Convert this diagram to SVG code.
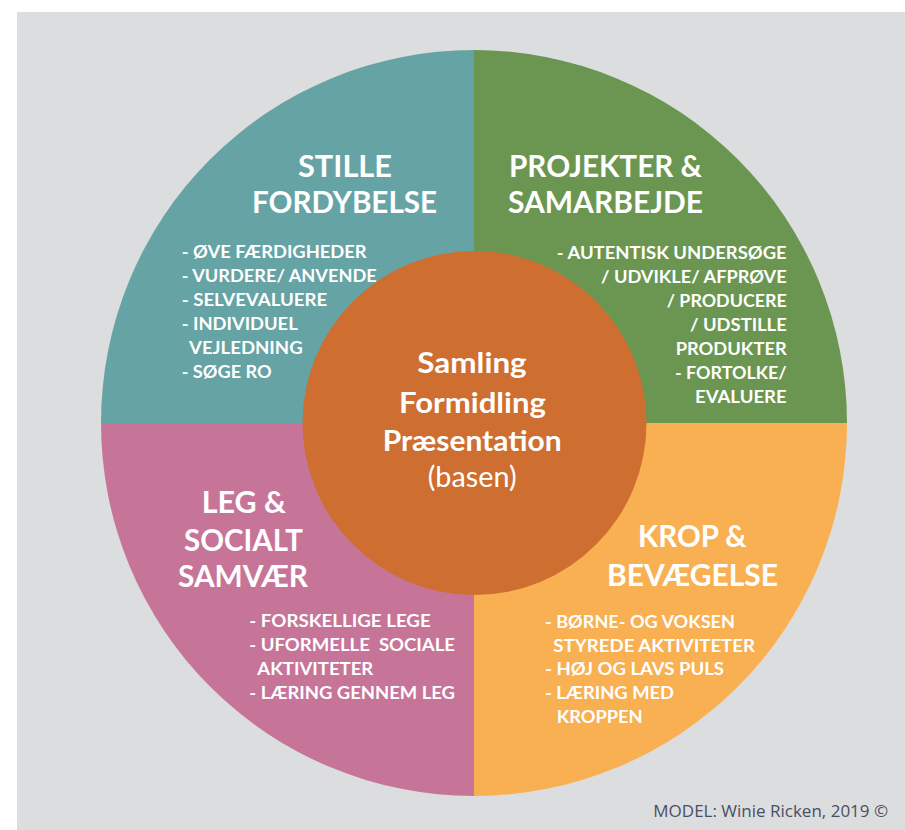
<svg xmlns="http://www.w3.org/2000/svg" width="905" height="830" viewBox="0 0 905 830">
<style>
.t{font-family:Lato,"Open Sans","Liberation Sans",sans-serif;font-weight:bold;fill:#ffffff;font-size:29.5px}
.b{font-family:Lato,"Open Sans","Liberation Sans",sans-serif;font-weight:bold;fill:#ffffff;font-size:16.5px}
.c{font-family:Lato,"Open Sans","Liberation Sans",sans-serif;font-weight:bold;fill:#ffffff;font-size:28px}
.r{font-family:Lato,"Open Sans","Liberation Sans",sans-serif;font-weight:normal;fill:#ffffff;font-size:28px}
.f{font-family:"Open Sans","Noto Sans","Liberation Sans",sans-serif;font-weight:normal;fill:#4a4f63;font-size:17px}
</style>
<rect x="0" y="0" width="905" height="830" fill="#ffffff"/>
<rect x="17" y="12" width="888" height="818" fill="#dcdddf"/>
<g id="stille-fordybelse">
<path d="M474,423 L101,423 A373,373 0 0 1 474,50 Z" fill="#66a3a4"/>
<text class="t" x="298" y="177" textLength="94" lengthAdjust="spacingAndGlyphs">STILLE</text>
<text class="t" x="252" y="213" textLength="185" lengthAdjust="spacingAndGlyphs">FORDYBELSE</text>
<text class="b" x="181.7" y="258" textLength="185" lengthAdjust="spacingAndGlyphs">- ØVE FÆRDIGHEDER</text>
<text class="b" x="181.7" y="281.7" textLength="195" lengthAdjust="spacingAndGlyphs">- VURDERE/ ANVENDE</text>
<text class="b" x="181.7" y="305.7" textLength="145.6" lengthAdjust="spacingAndGlyphs">- SELVEVALUERE</text>
<text class="b" x="181.7" y="330" textLength="116" lengthAdjust="spacingAndGlyphs">- INDIVIDUEL</text>
<text class="b" x="189" y="354" textLength="113.7" lengthAdjust="spacingAndGlyphs">VEJLEDNING</text>
<text class="b" x="181.7" y="378" textLength="90" lengthAdjust="spacingAndGlyphs">- SØGE RO</text>
</g>
<g id="projekter-samarbejde">
<path d="M474,423 L474,50 A373,373 0 0 1 847,423 Z" fill="#6a9651"/>
<text class="t" x="509" y="176.7" textLength="193" lengthAdjust="spacingAndGlyphs">PROJEKTER &amp;</text>
<text class="t" x="508" y="213" textLength="195" lengthAdjust="spacingAndGlyphs">SAMARBEJDE</text>
<text class="b" x="556.7" y="259" textLength="230" lengthAdjust="spacingAndGlyphs">- AUTENTISK UNDERSØGE</text>
<text class="b" x="601" y="283" textLength="185.7" lengthAdjust="spacingAndGlyphs">/ UDVIKLE/ AFPRØVE</text>
<text class="b" x="666.7" y="306.7" textLength="120" lengthAdjust="spacingAndGlyphs">/ PRODUCERE</text>
<text class="b" x="690" y="330.7" textLength="96.7" lengthAdjust="spacingAndGlyphs">/ UDSTILLE</text>
<text class="b" x="675.7" y="355" textLength="111" lengthAdjust="spacingAndGlyphs">PRODUKTER</text>
<text class="b" x="675" y="379" textLength="111.7" lengthAdjust="spacingAndGlyphs">- FORTOLKE/</text>
<text class="b" x="695" y="403" textLength="91.7" lengthAdjust="spacingAndGlyphs">EVALUERE</text>
</g>
<g id="krop-bevaegelse">
<path d="M474,423 L847,423 A373,373 0 0 1 474,796 Z" fill="#f9b053"/>
<text class="t" x="638" y="546.7" textLength="108.7" lengthAdjust="spacingAndGlyphs">KROP &amp;</text>
<text class="t" x="607" y="586" textLength="171" lengthAdjust="spacingAndGlyphs">BEVÆGELSE</text>
<text class="b" x="545" y="628.3" textLength="190" lengthAdjust="spacingAndGlyphs">- BØRNE- OG VOKSEN</text>
<text class="b" x="553.3" y="651.7" textLength="201.7" lengthAdjust="spacingAndGlyphs">STYREDE AKTIVITETER</text>
<text class="b" x="545" y="675" textLength="179" lengthAdjust="spacingAndGlyphs">- HØJ OG LAVS PULS</text>
<text class="b" x="545" y="699.3" textLength="129" lengthAdjust="spacingAndGlyphs">- LÆRING MED</text>
<text class="b" x="556.7" y="722.7" textLength="86" lengthAdjust="spacingAndGlyphs">KROPPEN</text>
</g>
<g id="leg-socialt-samvaer">
<path d="M474,423 L474,796 A373,373 0 0 1 101,423 Z" fill="#c67599"/>
<text class="t" x="201.7" y="513" textLength="84.3" lengthAdjust="spacingAndGlyphs">LEG &amp;</text>
<text class="t" x="184" y="550.7" textLength="119" lengthAdjust="spacingAndGlyphs">SOCIALT</text>
<text class="t" x="178" y="586.7" textLength="130" lengthAdjust="spacingAndGlyphs">SAMVÆR</text>
<text class="b" x="249.3" y="626.7" textLength="181.4" lengthAdjust="spacingAndGlyphs">- FORSKELLIGE LEGE</text>
<text class="b" x="249.3" y="650.7" textLength="205.7" lengthAdjust="spacingAndGlyphs" xml:space="preserve">- UFORMELLE  SOCIALE</text>
<text class="b" x="257.3" y="675" textLength="116" lengthAdjust="spacingAndGlyphs">AKTIVITETER</text>
<text class="b" x="249.3" y="699" textLength="205.7" lengthAdjust="spacingAndGlyphs">- LÆRING GENNEM LEG</text>
</g>
<g id="basen">
<circle cx="474.5" cy="423" r="172" fill="#ce6e31"/>
<text class="c" x="417.3" y="372.7" textLength="109.4" lengthAdjust="spacingAndGlyphs">Samling</text>
<text class="c" x="399" y="412.7" textLength="147" lengthAdjust="spacingAndGlyphs">Formidling</text>
<text class="c" x="382.7" y="450.7" textLength="179" lengthAdjust="spacingAndGlyphs">Præsentation</text>
<text class="r" x="427.7" y="487" textLength="89" lengthAdjust="spacingAndGlyphs">(basen)</text>
</g>
<g id="connectors"></g>
<text class="f" x="653.3" y="817.3">MODEL: Winie Ricken, 2019 ©</text>
</svg>
